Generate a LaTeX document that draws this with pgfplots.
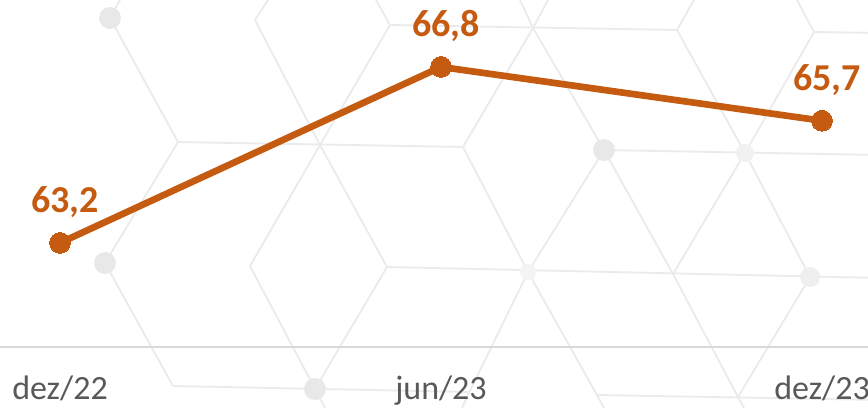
\documentclass[border=0pt]{standalone}
\usepackage{fontspec}
\setmainfont{Carlito}
\usepackage{pgfplots}
\usepackage{pgfplotstable}
\pgfplotsset{compat=1.18}
\definecolor{serieOrange}{HTML}{C55A11}
\definecolor{tickGrey}{HTML}{595959}
\definecolor{axisGrey}{HTML}{D9D9D9}
\definecolor{hexGrey}{HTML}{EBEBEB}
\definecolor{dotGrey}{HTML}{E8E8E8}
\pgfplotstableread{
x y label
0 63.2 63,2
1 66.8 66,8
2 65.7 65,7
}\datatable
\begin{document}
\begin{tikzpicture}
% decorative hexagon background, pixel grid (y downward)
\begin{scope}[shift={(0,306pt)}, x=0.75pt, y=-0.75pt, draw=hexGrey, line width=1.4pt]
  \draw (390,25)--(677,30);
  \draw (814,32)--(880,33);
  \draw (178,142)--(463,147);
  \draw (604,150)--(880,155);
  \draw (387,267)--(880,278);
  \draw (173,386)--(470,392);
  \draw (597,395)--(880,400);
  \draw (110,18)--(120,0);
  \draw (110,18)--(178,142)--(105,263)--(173,386);
  \draw (255,20)--(268,0);
  \draw (255,20)--(320,145)--(387,267);
  \draw (320,145)--(390,25)--(376,0);
  \draw (250,266)--(320,145);
  \draw (250,266)--(315,389)--(387,267);
  \draw (315,389)--(325,408);
  \draw (463,147)--(533,28)--(548,0);
  \draw (533,28)--(520,0);
  \draw (533,28)--(604,150)--(528,272);
  \draw (463,147)--(528,272)--(597,395)--(604,408);
  \draw (528,272)--(467,397)--(462,408);
  \draw (677,30)--(694,0);
  \draw (677,30)--(745,153)--(810,277);
  \draw (604,150)--(673,274)--(738,397)--(744,408);
  \draw (673,274)--(745,153)--(814,32)--(797,0);
  \draw (738,397)--(810,277);
  \fill[dotGrey] (110,18) circle (11);
  \fill[dotGrey] (105,263) circle (11);
  \fill[dotGrey] (315,389) circle (11);
  \fill[dotGrey] (604,150) circle (11);
  \fill[dotGrey!60] (745,153) circle (9);
  \fill[dotGrey!70] (810,277) circle (10);
  \fill[dotGrey!50] (528,272) circle (8);
\end{scope}
\begin{axis}[
  at={(0,45.75pt)}, anchor=south west,
  scale only axis,
  width=651pt, height=260.25pt,
  xmin=-0.1575, xmax=2.1207,
  ymin=61.07, ymax=68.17,
  axis x line*=bottom,
  axis y line=none,
  axis line style={draw=axisGrey, line width=1.5pt, -},
  xtick={0,1,2},
  xticklabels={dez/22,jun/23,dez/23},
  major tick length=0pt,
  xticklabel style={font=\fontsize{25.5}{28}\selectfont, text=tickGrey, anchor=base, yshift=-39pt, inner sep=0pt},
  clip=false,
  nodes near coords,
  point meta=explicit symbolic,
  every node near coord/.append style={font=\bfseries\fontsize{28.5}{30}\selectfont, text=serieOrange, anchor=base, yshift=22.5pt, xshift=3.75pt, inner sep=0pt},
]
\addplot[color=serieOrange, line width=5pt, mark=*, mark size=7.8pt, mark options={line width=0pt, fill=serieOrange}]
  table[x=x, y=y, meta=label] \datatable;
\end{axis}
\pgfresetboundingbox
\useasboundingbox (0,0) rectangle (651pt,306pt);
\end{tikzpicture}
\end{document}
